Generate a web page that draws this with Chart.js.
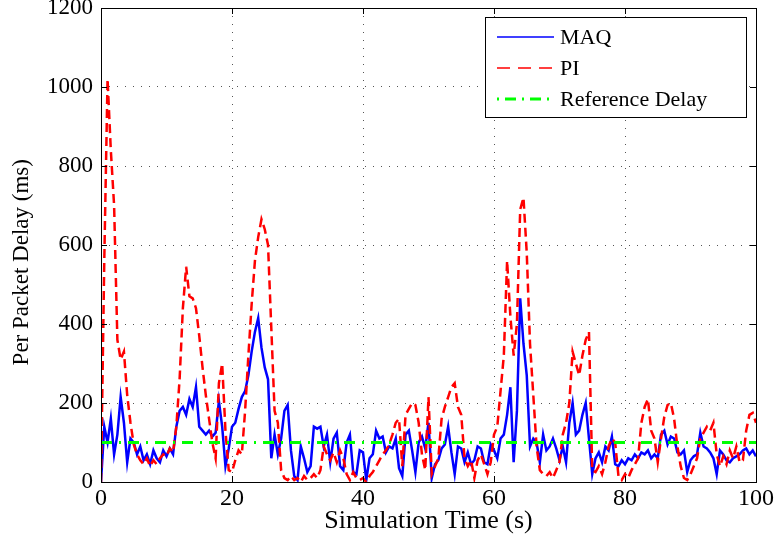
<!DOCTYPE html>
<html>
<head>
<meta charset="utf-8">
<script src="https://cdn.jsdelivr.net/npm/chart.js@4"></script>
<style>
  body { margin: 0; background: #fff; }
  canvas { display: block; }
</style>
</head>
<body>
<canvas id="delay-chart" width="775" height="550"></canvas>
<script>
// sampling step of the traces (s)
const dt = 0.5

// MAQ per packet delay (ms), one value every 0.5 s from 0 to 100 s
const maq = [
  0, 140, 100, 160, 70, 120, 215, 150, 50, 110,
  100, 70, 90, 55, 70, 45, 80, 60, 50, 80,
  65, 85, 70, 140, 180, 190, 170, 210, 190, 240,
  140, 130, 120, 130, 115, 125, 205, 140, 40, 85,
  140, 150, 185, 215, 230, 270, 330, 380, 415, 340,
  290, 260, 60, 120, 70, 110, 180, 195, 80, 15,
  5, 90, 60, 25, 40, 140, 135, 140, 90, 120,
  50, 110, 125, 40, 30, 100, 120, 25, 20, 80,
  75, 5, 60, 70, 130, 110, 115, 75, 90, 85,
  110, 35, 15, 120, 130, 80, 25, 100, 115, 85,
  150, 10, 45, 55, 85, 95, 140, 75, 20, 90,
  85, 50, 75, 45, 55, 90, 85, 50, 45, 95,
  80, 60, 110, 120, 170, 240, 50, 180, 465, 350,
  270, 90, 110, 100, 50, 120, 80, 90, 110, 85,
  55, 90, 50, 150, 200, 120, 130, 170, 200, 110,
  20, 60, 75, 50, 90, 80, 115, 45, 40, 55,
  45, 60, 55, 70, 60, 75, 70, 80, 60, 70,
  60, 120, 130, 95, 115, 110, 75, 70, 80, 25,
  55, 65, 70, 125, 90, 85, 75, 60, 20, 80,
  70, 55, 50, 60, 65, 70, 80, 85, 70, 80,
  65
]

// PI per packet delay (ms), same sampling
const pi = [
  0, 560, 1020, 840, 700, 360, 310, 330, 220, 150,
  95, 70, 55, 45, 60, 40, 55, 45, 60, 70,
  65, 85, 75, 140, 260, 440, 545, 470, 465, 440,
  370, 290, 220, 160, 100, 60, 250, 300, 130, 30,
  25, 55, 80, 70, 180, 320, 450, 560, 620, 665,
  640, 600, 390, 180, 150, 30, 10, 5, 15, 5,
  10, 0, 15, 5, 10, 20, 10, 30, 90, 70,
  55, 75, 50, 80, 60, 20, 5, 25, 10, 5,
  10, 0, 15, 25, 40, 55, 70, 80, 95, 120,
  150, 160, 40, 170, 185, 200, 195, 150, 70, 30,
  215, 20, 40, 60, 160, 190, 215, 240, 250, 190,
  170, 60, 40, 55, 10, 55, 70, 45, 20, 50,
  120, 140, 230, 320, 560, 420, 320, 400, 690, 720,
  580, 350, 220, 90, 30, 20, 15, 25, 10, 30,
  50, 120, 150, 200, 330, 300, 270, 320, 360, 380,
  30, 25, 40, 20, 50, 90, 110, 100, 15, 5,
  20, 10, 30, 45, 60, 150, 190, 210, 130, 110,
  50, 110, 165, 195, 200, 160, 90, 40, 10, 5,
  20, 40, 60, 110, 125, 140, 130, 150, 70, 40,
  65, 45, 80, 60, 90, 50, 55, 130, 170, 175,
  150
]

// reference delay (ms) at the ends of the run
const refTimes = [0, 100]
const refDelay = [100, 100]

const xTicks = [0, 20, 40, 60, 80, 100]
const yTicks = [0, 200, 400, 600, 800, 1000, 1200]

const serif = 'Liberation Serif, Times New Roman, serif'

function toPoints(values) {
  return values.map((v, i) => ({ x: i * dt, y: v }))
}

// black box round the plot, with small inward tick marks on all sides
const frame = {
  id: 'frame',
  afterDatasetsDraw(chart) {
    const { ctx, chartArea: a, scales } = chart
    ctx.save()
    ctx.strokeStyle = '#000'
    ctx.lineWidth = 1
    ctx.beginPath()
    xTicks.forEach(v => {
      const px = Math.round(scales.x.getPixelForValue(v)) + 0.5
      ctx.moveTo(px, a.bottom); ctx.lineTo(px, a.bottom - 6)
      ctx.moveTo(px, a.top); ctx.lineTo(px, a.top + 6)
    })
    yTicks.forEach(v => {
      const py = Math.round(scales.y.getPixelForValue(v)) + 0.5
      ctx.moveTo(a.left, py); ctx.lineTo(a.left + 6, py)
      ctx.moveTo(a.right, py); ctx.lineTo(a.right - 6, py)
    })
    ctx.stroke()
    ctx.strokeRect(Math.round(a.left) + 0.5, Math.round(a.top) + 0.5,
      Math.round(a.right - a.left), Math.round(a.bottom - a.top))
    ctx.restore()
  }
}

// legend box in the upper right corner, like the original figure
const boxLegend = {
  id: 'boxLegend',
  afterDraw(chart) {
    const { ctx, chartArea: a } = chart
    const sets = chart.data.datasets
    const w = 261, h = 100
    const x0 = a.right - 271, y0 = a.top + 9
    ctx.save()
    ctx.fillStyle = '#fff'
    ctx.fillRect(x0, y0, w, h)
    ctx.strokeStyle = '#000'
    ctx.lineWidth = 1
    ctx.strokeRect(x0 + 0.5, y0 + 0.5, w, h)
    ctx.font = '22px ' + serif
    ctx.textBaseline = 'middle'
    sets.forEach((ds, i) => {
      const cy = y0 + 20 + i * 31
      ctx.strokeStyle = ds.borderColor
      ctx.lineWidth = ds.legendWidth
      ctx.setLineDash(ds.legendDash)
      ctx.beginPath()
      ctx.moveTo(x0 + 12, cy)
      ctx.lineTo(x0 + 69, cy)
      ctx.stroke()
      ctx.setLineDash([])
      ctx.fillStyle = '#000'
      ctx.fillText(ds.label, x0 + 75, cy + 1)
    })
    ctx.restore()
  }
}

const ctx = document.getElementById('delay-chart')

new Chart(ctx, {
  type: 'line',
  data: {
    datasets: [
      {
        label: 'MAQ',
        data: toPoints(maq),
        borderColor: '#0000ff',
        borderWidth: 2.5,
        legendWidth: 1.5,
        legendDash: [],
        order: 3
      },
      {
        label: 'PI',
        data: toPoints(pi),
        borderColor: '#ff0000',
        borderWidth: 2.5,
        borderDash: [9, 5],
        legendWidth: 1.5,
        legendDash: [13, 8],
        order: 2
      },
      {
        label: 'Reference Delay',
        data: refTimes.map((t, i) => ({ x: t, y: refDelay[i] })),
        borderColor: '#00ff00',
        borderWidth: 3,
        borderDash: [11, 7, 2, 7],
        legendWidth: 3,
        legendDash: [2, 6, 11, 6],
        order: 1
      }
    ]
  },
  options: {
    responsive: false,
    animation: false,
    events: [],
    elements: {
      point: { radius: 0 },
      line: { tension: 0, fill: false }
    },
    layout: {
      padding: { left: 0, right: 19, top: 8, bottom: 0 }
    },
    plugins: {
      legend: { display: false },
      tooltip: { enabled: false },
      title: { display: false }
    },
    scales: {
      x: {
        type: 'linear',
        min: 0,
        max: 100,
        afterBuildTicks: scale => { scale.ticks = xTicks.map(v => ({ value: v })) },
        afterFit: scale => {
          scale.height = 68
          scale.paddingLeft = 0
          scale.paddingRight = 0
        },
        ticks: {
          color: '#000',
          font: { family: serif, size: 24 },
          padding: 2,
          maxRotation: 0,
          callback: v => String(v)
        },
        grid: { color: '#555', drawTicks: false },
        border: { display: false, dash: [1, 7] },
        title: {
          display: true,
          text: 'Simulation Time (s)',
          color: '#000',
          font: { family: serif, size: 26 },
          padding: { top: 0, bottom: 13 }
        }
      },
      y: {
        type: 'linear',
        min: 0,
        max: 1200,
        afterBuildTicks: scale => { scale.ticks = yTicks.map(v => ({ value: v })) },
        afterFit: scale => {
          scale.width = 101
          scale.paddingTop = 0
          scale.paddingBottom = 0
        },
        ticks: {
          color: '#000',
          font: { family: serif, size: 23 },
          padding: 8,
          callback: v => String(v)
        },
        grid: { color: '#555', drawTicks: false },
        border: { display: false, dash: [1, 7] },
        title: {
          display: true,
          text: 'Per Packet Delay (ms)      ',
          color: '#000',
          font: { family: serif, size: 23 },
          padding: { top: 8, bottom: 0 }
        }
      }
    }
  },
  plugins: [frame, boxLegend]
})
</script>
</body>
</html>
